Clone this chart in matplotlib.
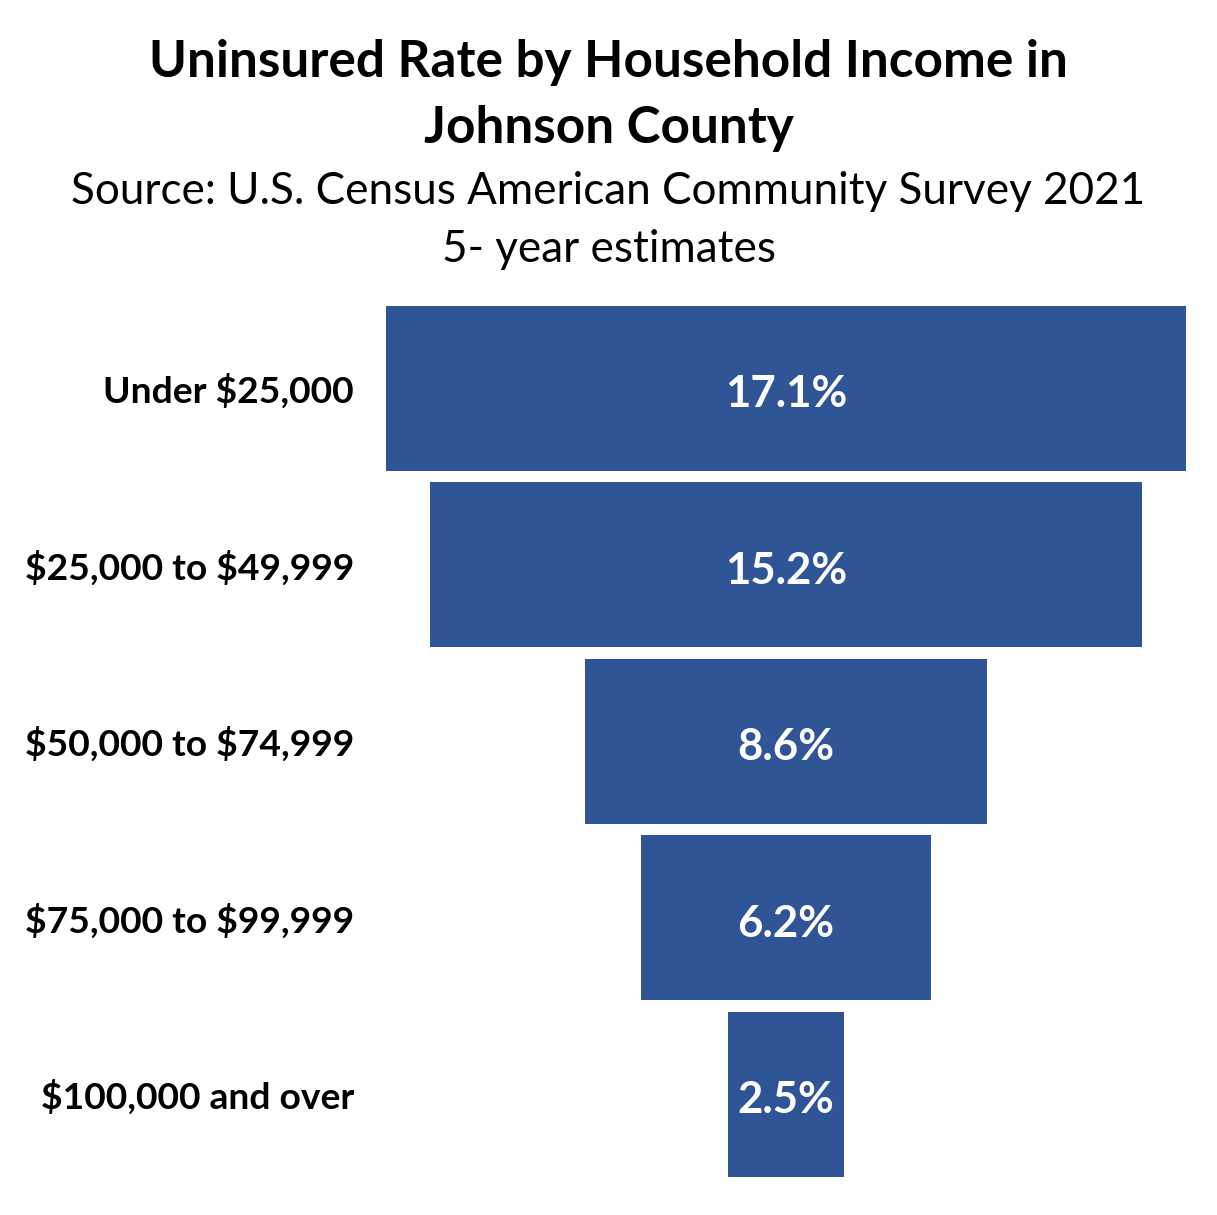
import matplotlib.pyplot as plt

plt.rcParams['font.family'] = ['Lato', 'DejaVu Sans']

# data
categories = ["Under $25,000", "$25,000 to $49,999", "$50,000 to $74,999",
              "$75,000 to $99,999", "$100,000 and over"]
rates = [17.1, 15.2, 8.6, 6.2, 2.5]

fig = plt.figure(figsize=(12.17, 12.15), dpi=100)
ax = fig.add_axes([386 / 1217, 1 - 1182.5 / 1215, 800 / 1217, 882.5 / 1215])

# funnel: bars centred on zero
y = list(range(len(categories)))
lefts = [-r / 2 for r in rates]
ax.barh(y, rates, left=lefts, height=0.935, color="#2F5597")

for i, r in enumerate(rates):
    ax.text(0, i + 0.035, f"{r}%", ha="center", va="center", color="white",
            fontsize=31.5, fontweight="bold")

ax.set_xlim(-8.55, 8.55)
ax.set_ylim(4.5, -0.5)
ax.set_yticks(y)
ax.set_yticklabels(categories, fontsize=26.8, fontweight="bold", parse_math=False)
ax.tick_params(axis="y", length=0, pad=23)
ax.set_xticks([])
for s in ax.spines.values():
    s.set_visible(False)

fig.text(0.5, 1 - 62 / 1215, "Uninsured Rate by Household Income in",
         ha="center", va="center", fontsize=36.9, fontweight="bold")
fig.text(0.5, 1 - 128 / 1215, "Johnson County",
         ha="center", va="center", fontsize=36.9, fontweight="bold")
fig.text(0.5, 1 - 192 / 1215, "Source: U.S. Census American Community Survey 2021",
         ha="center", va="center", fontsize=31.7)
fig.text(0.5, 1 - 250 / 1215, "5- year estimates",
         ha="center", va="center", fontsize=31.7)

fig.savefig("out.png", dpi=100)
